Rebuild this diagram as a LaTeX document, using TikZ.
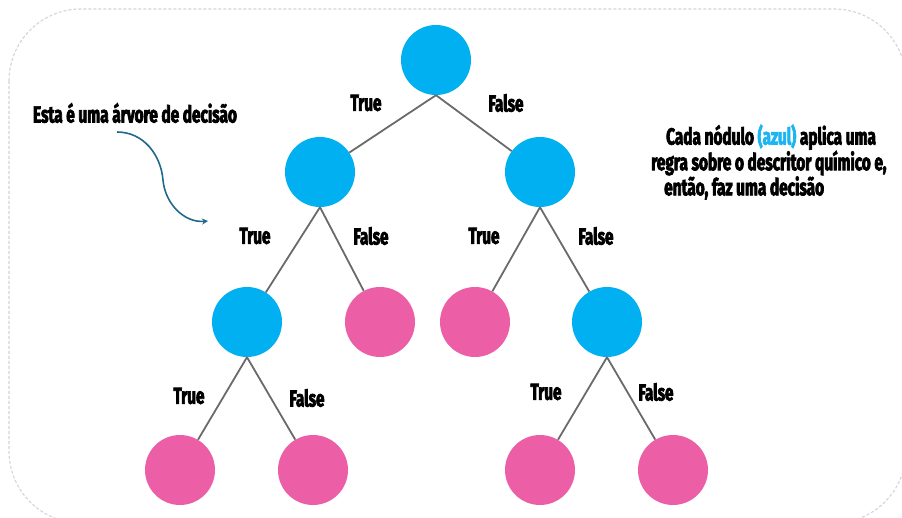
\documentclass[tikz,border=0pt]{standalone}
\usepackage{fontspec}
\setmainfont{Fira Sans}[FakeStretch=0.66, BoldFeatures={FakeBold=3}]
\usetikzlibrary{arrows.meta}
\definecolor{nodeblue}{HTML}{00B0F0}
\definecolor{leafpink}{HTML}{EC5FA6}
\definecolor{edgegray}{HTML}{6A6A6A}
\definecolor{framegray}{HTML}{D4D4D4}
\definecolor{arrowteal}{HTML}{22688C}
\definecolor{azulcyan}{HTML}{1DB4F2}
\tikzset{
  x=1pt, y=-1pt,
  decision/.style={circle, fill=nodeblue, minimum size=70pt, inner sep=0pt},
  leaf/.style={circle, fill=leafpink, minimum size=70pt, inner sep=0pt},
  branch/.style={draw=edgegray, line width=1.8pt},
  lbl/.style={font=\fontsize{23}{23}\selectfont\bfseries, inner sep=0pt},
  note/.style={font=\fontsize{23.3}{22}\selectfont\bfseries, inner sep=0pt},
}
\begin{document}
\begin{tikzpicture}
\useasboundingbox (0,0) rectangle (902,518);
% dashed frame
\draw[framegray, line width=1.1pt, dash pattern=on 3pt off 2pt, rounded corners=72pt]
  (9,9) rectangle (906,523);

% tree nodes
\node[decision] (root) at (436,60) {};
\node[decision] (l) at (320,172) {};
\node[decision] (r) at (540,172) {};
\node[decision] (ll) at (247,322) {};
\node[leaf] (lr) at (380,322) {};
\node[leaf] (rl) at (475,322) {};
\node[decision] (rr) at (607,322) {};
\node[leaf] (lll) at (180,470) {};
\node[leaf] (llr) at (313,470) {};
\node[leaf] (rrl) at (540,470) {};
\node[leaf] (rrr) at (673,470) {};

% branches
\draw[branch] (root.south) -- (l);
\draw[branch] (root.south) -- (r);
\draw[branch] (l.south) -- (ll);
\draw[branch] (l.south) -- (lr);
\draw[branch] (r.south) -- (rl);
\draw[branch] (r.south) -- (rr);
\draw[branch] (ll.south) -- (lll);
\draw[branch] (ll.south) -- (llr);
\draw[branch] (rr.south) -- (rrl);
\draw[branch] (rr.south) -- (rrr);

% branch labels
\node[lbl] (t1) at (366,103) {True};
\node[lbl] (f1) at (506,103) {False};
\node[lbl] (t2) at (255,236) {True};
\node[lbl] (f2) at (371,236) {False};
\node[lbl] (t3) at (484,236) {True};
\node[lbl] (f3) at (596,236) {False};
\node[lbl] (t4) at (189,396) {True};
\node[lbl] (f4) at (307,398) {False};
\node[lbl] (t5) at (546,392) {True};
\node[lbl] (f5) at (656,392) {False};

% annotations
\node[note] (title) at (135,113) {Esta é uma árvore de decisão};
\node[note, align=left, anchor=west] (notes) at (651,162)
  {\hspace*{15pt}Cada nódulo \textcolor{azulcyan}{(azul)} aplica uma\\
   regra sobre o descritor químico e,\\
   \hspace*{13pt}então, faz uma decisão};

% curved pointer
\coordinate (pS) at (117,132);
\coordinate (pM) at (163,180);
\coordinate (pE) at (208,221);
\draw[arrowteal, line width=1.6pt, -{Stealth[length=6pt,width=6pt]}]
  (pS) to[out=0, in=95] (pM) to[out=-85, in=185] (pE);
\end{tikzpicture}
\end{document}
